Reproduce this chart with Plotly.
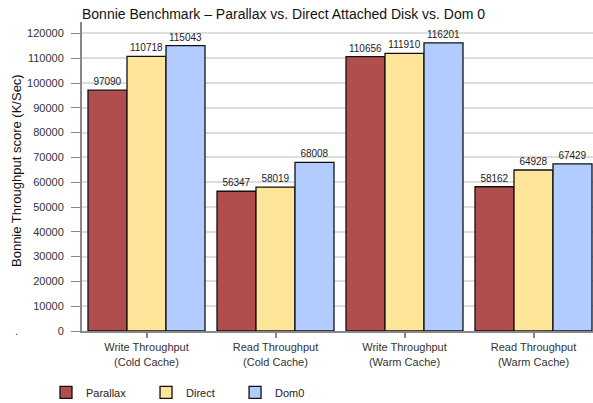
import plotly.graph_objects as go

categories = ["Write Throughput<br>(Cold Cache)", "Read Throughput<br>(Cold Cache)",
              "Write Throughput<br>(Warm Cache)", "Read Throughput<br>(Warm Cache)"]
parallax = [97090, 56347, 110656, 58162]
direct = [110718, 58019, 111910, 64928]
dom0 = [115043, 68008, 116201, 67429]
series_names = ["Parallax", "Direct", "Dom0"]
colors = ["#B04E4E", "#FFE599", "#B3CCFF"]
y_ticks = list(range(0, 120001, 10000))

PAD = "\u00a0" * 5

fig = go.Figure()
for name, vals, col in zip(series_names, [parallax, direct, dom0], colors):
    fig.add_trace(go.Bar(
        x=categories, y=vals, name=name + PAD,
        marker=dict(color=col, line=dict(color="#111111", width=1.3)),
        text=[str(v) for v in vals], textposition="outside",
        textfont=dict(size=10, color="#222222", family="Liberation Sans, Arial"),
        cliponaxis=False,
    ))

fig.update_layout(
    width=593, height=403,
    margin=dict(l=82, r=0, t=22, b=72, autoexpand=False),
    paper_bgcolor="white", plot_bgcolor="white",
    font=dict(family="Liberation Sans, Arial", size=11, color="#222222"),
    barmode="group", bargap=0.093, bargroupgap=0,
    title=dict(text="Bonnie Benchmark – Parallax vs. Direct Attached Disk vs. Dom 0",
               x=82/593, xanchor="left", y=1 - 14/403, yanchor="middle",
               font=dict(size=14, color="#111111")),
    showlegend=True,
    legend=dict(orientation="h", xref="container", x=46/593, xanchor="left",
                y=-0.152, yanchor="top",
                font=dict(size=11, color="#222222"), traceorder="normal"),
    xaxis=dict(range=[-0.5, -0.5 + 511/129], showline=True, linecolor="#888888", linewidth=2,
               ticks="outside", ticklen=5, tickcolor="#888888", tickwidth=1.5,
               tickfont=dict(size=11, color="#333333"), showgrid=False),
    yaxis=dict(range=[0, 124600], tickvals=y_ticks, ticktext=[str(v) for v in y_ticks],
               showline=True, linecolor="#888888", linewidth=2,
               ticks="outside", ticklen=9, tickcolor="#888888", tickwidth=1,
               ticklabelstandoff=5,
               gridcolor="#DDDDDD", gridwidth=1.5,
               tickfont=dict(size=11, color="#333333"), zeroline=False),
    annotations=[
        dict(text="Bonnie Throughput score (K/Sec)", textangle=-90, xref="paper", yref="paper",
             x=(16 - 82)/511, y=(331 - 171)/309, xanchor="center", yanchor="middle",
             showarrow=False, font=dict(size=13, color="#111111")),
        dict(text=".", xref="paper", yref="paper", x=(16 - 82)/511, y=0,
             xanchor="center", yanchor="middle", showarrow=False,
             font=dict(size=11, color="#333333")),
    ],
)

fig.write_html("out.html", config={"displayModeBar": False},
               post_script="document.body.style.margin='0';")
